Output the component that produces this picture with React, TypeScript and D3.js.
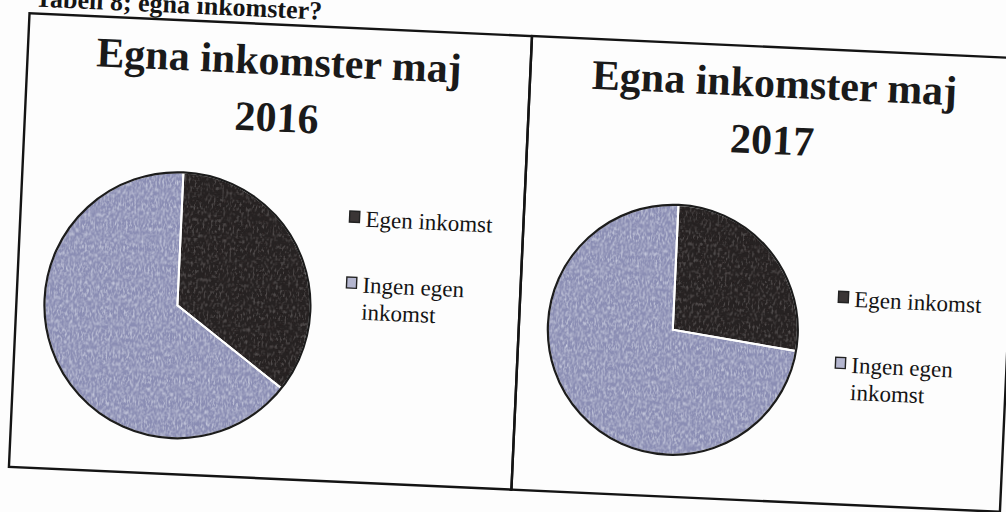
import React from "react";
import * as d3 from "d3";

// ---- data ----
const categories = ["Egen inkomst", "Ingen egen inkomst"];
const legendLines = [["Egen inkomst"], ["Ingen egen", "inkomst"]];
const years = ["2016", "2017"];
const values2016 = [35, 65];
const values2017 = [27, 73];
const titleText = "Egna inkomster maj";
const headerText = "Tabell 8; egna inkomster?";

const W = 1006;
const H = 512;
const colors = ["#272222", "#8a8db4"];
const legendColors = ["#3a3535", "#b4b6cf"];

const panels = [
  { x0: 19, x1: 522, year: years[0], values: values2016, pcx: 180, pcy: 320, r: 133, lx: 364, ly: 233 },
  { x0: 522, x1: 1011, year: years[1], values: values2017, pcx: 676, pcy: 322, r: 125, lx: 856, ly: 291 },
];
const top = 35;
const bottom = 489;

export default function App() {
  const pie = d3
    .pie<number>()
    .sort(null)
    .value((d) => d);
  return (
    <svg
      width={W}
      height={H}
      style={{ position: "absolute", left: 0, top: 0, background: "#fdfdfd" }}
      fontFamily="'Liberation Serif', 'Times New Roman', serif"
    >
      <defs>
        <filter id="grainLight" x="0" y="0" width="100%" height="100%">
          <feTurbulence type="fractalNoise" baseFrequency="0.55 0.25" numOctaves={2} seed={4} result="noise" />
          <feColorMatrix
            in="noise"
            type="matrix"
            values="0 0 0 0 0.85  0 0 0 0 0.88  0 0 0 0 0.97  1.2 0 0 0 -0.5"
            result="white"
          />
          <feComposite in="white" in2="SourceGraphic" operator="in" result="wm" />
          <feMerge>
            <feMergeNode in="SourceGraphic" />
            <feMergeNode in="wm" />
          </feMerge>
        </filter>
        <filter id="grainDark" x="0" y="0" width="100%" height="100%">
          <feTurbulence type="fractalNoise" baseFrequency="0.5 0.25" numOctaves={2} seed={9} result="noise" />
          <feColorMatrix
            in="noise"
            type="matrix"
            values="0 0 0 0 0.35  0 0 0 0 0.32  0 0 0 0 0.32  0.7 0 0 0 -0.35"
            result="gray"
          />
          <feComposite in="gray" in2="SourceGraphic" operator="in" result="gm" />
          <feMerge>
            <feMergeNode in="SourceGraphic" />
            <feMergeNode in="gm" />
          </feMerge>
        </filter>
      </defs>
      <rect width={W} height={H} fill="#fdfdfd" />
      <g transform={`rotate(2.6, ${W / 2}, ${H / 2})`}>
        <text x={24} y={28} fontSize={26} fontWeight="bold" fill="#151515">
          {headerText}
        </text>
        {panels.map((p, pi) => {
          const arcs = pie(p.values);
          const arc = d3.arc<d3.PieArcDatum<number>>().innerRadius(0).outerRadius(p.r);
          const mid = (p.x0 + p.x1) / 2;
          return (
            <g key={pi}>
              <rect
                x={p.x0}
                y={top}
                width={p.x1 - p.x0}
                height={bottom - top}
                fill="none"
                stroke="#141414"
                strokeWidth={2.4}
              />
              <text x={mid} y={85} textAnchor="middle" fontSize={42} fontWeight="bold" fill="#1a1a1a">
                {titleText}
              </text>
              <text x={mid} y={142} textAnchor="middle" fontSize={42} fontWeight="bold" fill="#1a1a1a">
                {p.year}
              </text>
              <g transform={`translate(${p.pcx},${p.pcy})`}>
                {arcs.map((a, i) => (
                  <path
                    key={i}
                    d={arc(a) || ""}
                    fill={colors[i]}
                    filter={i === 0 ? "url(#grainDark)" : "url(#grainLight)"}
                  />
                ))}
                {arcs.map((a, i) => (
                  <path key={"s" + i} d={arc(a) || ""} fill="none" stroke="#ffffff" strokeWidth={2} />
                ))}
                <circle r={p.r} fill="none" stroke="#1c1c1c" strokeWidth={2.2} />
              </g>
              {categories.map((c, i) => (
                <g key={c}>
                  <rect
                    x={p.lx - 16}
                    y={p.ly + i * 66 - 15}
                    width={10}
                    height={11}
                    fill={legendColors[i]}
                    stroke="#222"
                    strokeWidth={1.4}
                  />
                  <text x={p.lx} y={p.ly + i * 66} fontSize={23} fill="#141414">
                    {legendLines[i].map((ln, k) => (
                      <tspan key={k} x={p.lx} dy={k === 0 ? 0 : 27}>
                        {ln}
                      </tspan>
                    ))}
                  </text>
                </g>
              ))}
            </g>
          );
        })}
      </g>
    </svg>
  );
}
